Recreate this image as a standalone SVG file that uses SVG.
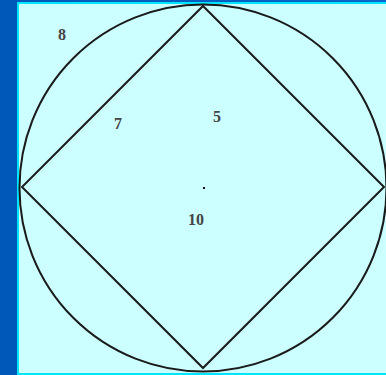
<svg xmlns="http://www.w3.org/2000/svg" width="386" height="375" viewBox="0 0 386 375">
<defs>
<linearGradient id="bg" x1="0" y1="0" x2="1" y2="0">
<stop offset="0" stop-color="#0058b8"/>
<stop offset="1" stop-color="#0a66cc"/>
</linearGradient>
</defs>
<style>
.ln{fill:none;stroke:#1a1a1a;stroke-width:2}
.lb{font-family:"Liberation Serif",serif;font-size:16px;font-weight:bold;fill:#444}
</style>
<rect x="0" y="0" width="386" height="375" fill="url(#bg)"/>
<rect x="17" y="2" width="369" height="373" fill="#00e5ff"/>
<rect x="19" y="4" width="367" height="369" fill="#ccffff"/>
<g id="circle"><circle class="ln" cx="203" cy="188" r="183.5"/></g>
<g id="diamond"><polygon class="ln" points="203,6 384,187 203,368 22,187"/></g>
<g id="center"><rect x="203" y="187" width="2" height="2" fill="#111"/></g>
<g id="labels">
<text class="lb" x="58" y="40">8</text>
<text class="lb" x="114" y="129">7</text>
<text class="lb" x="213" y="122">5</text>
<text class="lb" x="188" y="225">10</text>
</g>
</svg>
